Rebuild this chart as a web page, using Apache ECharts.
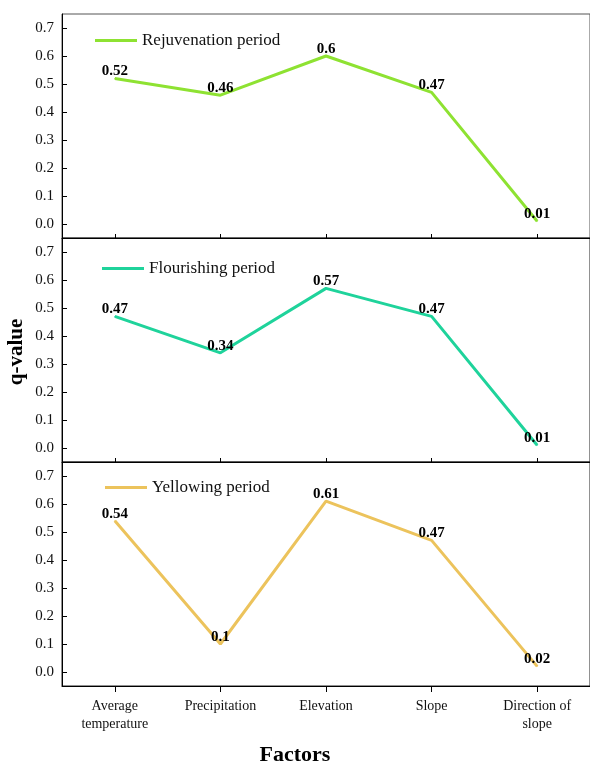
<!DOCTYPE html>
<html><head><meta charset="utf-8">
<script src="https://cdn.jsdelivr.net/npm/echarts@6/dist/echarts.min.js"></script>
<style>html,body{margin:0;padding:0;background:#fff}#c{width:590px;height:765px}</style>
</head><body><div id="c"></div>
<script>
const categories = ['Average\ntemperature', 'Precipitation', 'Elevation', 'Slope', 'Direction of\nslope'];
const rejuvenation = [0.52, 0.46, 0.6, 0.47, 0.01];
const flourishing = [0.47, 0.34, 0.57, 0.47, 0.01];
const yellowing = [0.54, 0.1, 0.61, 0.47, 0.02];
const yTicks = [0, 0.1, 0.2, 0.3, 0.4, 0.5, 0.6, 0.7];
const seriesNames = ['Rejuvenation period', 'Flourishing period', 'Yellowing period'];
const seriesData = [rejuvenation, flourishing, yellowing];
const colors = ['#8ee232', '#1fd39b', '#ecc35c'];

const FONT = 'Liberation Serif';
const tops = [14, 238, 462];
const H = 224;
const legendPos = [{left: 90, top: 27}, {left: 97, top: 255}, {left: 100, top: 474}];

const chart = echarts.init(document.getElementById('c'));
const grids = [], xAxes = [], yAxes = [], series = [], legends = [];
for (let i = 0; i < 3; i++) {
  const last = i === 2;
  grids.push({left: 62, right: 0, top: tops[i], height: H, show: true,
    borderColor: i === 0 ? '#555' : '#222', borderWidth: 1});
  xAxes.push({type: 'category', gridIndex: i, data: categories, boundaryGap: true,
    axisLine: {show: true, onZero: false, lineStyle: {color: '#000', width: 1}},
    axisTick: {show: true, alignWithLabel: true, inside: !last, length: last ? 6 : 4, lineStyle: {color: '#000'}},
    axisLabel: {show: last, fontFamily: FONT, fontSize: 14, color: '#111', lineHeight: 18, margin: 11, interval: 0}});
  yAxes.push({type: 'value', gridIndex: i, min: -0.05, max: 0.75,
    axisLine: {show: true, onZero: false, lineStyle: {color: '#000', width: 1}},
    axisTick: {show: true, inside: true, length: 5, customValues: yTicks, lineStyle: {color: '#000'}},
    axisLabel: {fontFamily: FONT, fontSize: 15, color: '#111', margin: 8, customValues: yTicks,
      formatter: v => v.toFixed(1)},
    splitLine: {show: false}});
  series.push({name: seriesNames[i], type: 'line', xAxisIndex: i, yAxisIndex: i,
    data: seriesData[i], showSymbol: true, symbol: 'circle', symbolSize: 1,
    lineStyle: {color: colors[i], width: 3}, itemStyle: {color: colors[i]},
    label: {show: true, position: 'top', distance: -1, fontFamily: FONT, fontWeight: 'bold',
      fontSize: 15, color: '#000'}});
  legends.push({data: [seriesNames[i]], left: legendPos[i].left, top: legendPos[i].top,
    icon: 'rect', itemWidth: 42, itemHeight: 3, itemGap: 5,
    textStyle: {fontFamily: FONT, fontSize: 17, color: '#111'}});
}
chart.setOption({
  animation: false,
  grid: grids, xAxis: xAxes, yAxis: yAxes, series: series, legend: legends,
  graphic: [
    {type: 'text', left: 'center', top: 744, style: {text: 'Factors', font: 'bold 22px "Liberation Serif"', fill: '#000'}},
    {type: 'text', x: 17, y: 352, rotation: Math.PI / 2, style: {text: 'q-value', font: 'bold 21px "Liberation Serif"', fill: '#000', align: 'center', verticalAlign: 'middle'}}
  ]
});
</script></body></html>
